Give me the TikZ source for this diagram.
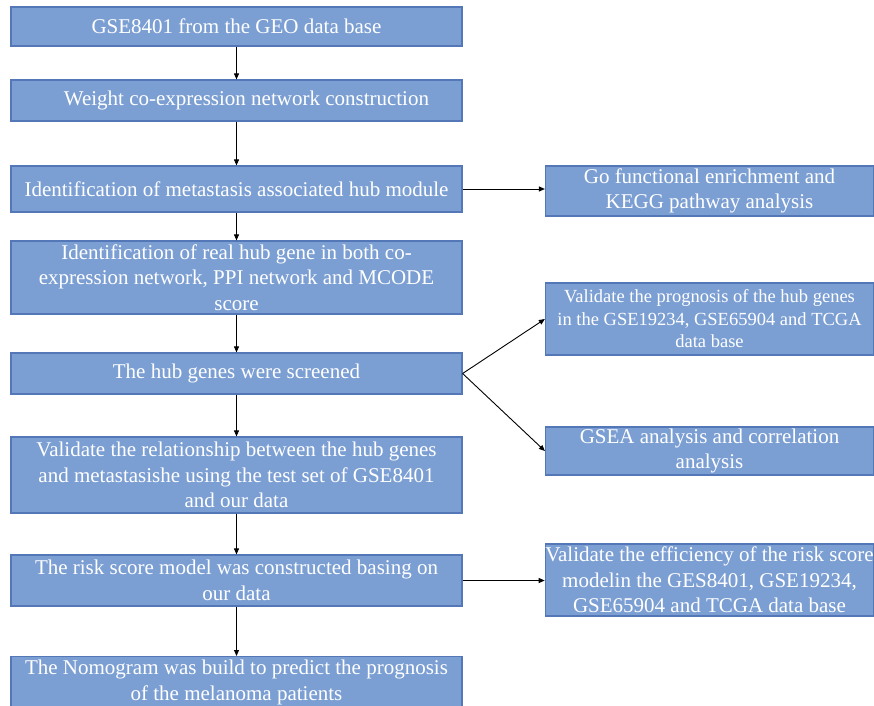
\documentclass[tikz,border=0pt]{standalone}
\usepackage{fontspec}
\setmainfont{Liberation Serif}
\usetikzlibrary{arrows.meta}
\definecolor{boxfill}{RGB}{124,159,211}
\definecolor{boxline}{RGB}{84,119,183}
\tikzset{
  box/.style={draw=boxline,line width=1.2pt,fill=boxfill,text=white,align=center,
    inner sep=0pt,minimum width=451pt,font=\fontsize{21}{25.5}\selectfont},
  sidebox/.style={box,minimum width=328pt},
  flow/.style={->,line width=0.9pt}
}
\begin{document}
\begin{tikzpicture}[x=1pt,y=-1pt,>={Triangle[length=6pt,width=5pt]}]
  \useasboundingbox (0,0) rectangle (874,705);
  % main column
  \node[box,minimum height=39pt] (geo) at (236.5,26.5) {GSE8401 from the GEO data base};
  \node[box,minimum height=41pt] (wgcna) at (236.5,100.5) {\hspace*{20pt}Weight co-expression network construction};
  \node[box,minimum height=46pt] (module) at (236.5,189) {Identification of metastasis associated hub module};
  \node[box,minimum height=73pt] (realhub) at (236.5,277.5) {Identification of real hub gene in both co-\\expression network, PPI network and MCODE\\score};
  \node[box,minimum height=41pt] (screen) at (236.5,373.5) {The hub genes were screened};
  \node[box,minimum height=76pt] (relation) at (236.5,475) {Validate the relationship between the hub genes\\and metastasishe using the test set of GSE8401\\and our data};
  \node[box,minimum height=51pt] (risk) at (236.5,580.5) {The risk score model was constructed basing on\\our data};
  \node[box,minimum height=52pt,anchor=north] (nomo) at (236.5,656) {The Nomogram was build to predict the prognosis\\of the melanoma patients};
  % side boxes
  \node[sidebox,minimum height=50pt] (enrich) at (709.5,191) {Go functional enrichment and\\KEGG pathway analysis};
  \node[sidebox,minimum height=72pt,font=\fontsize{18.5}{22.5}\selectfont] (progn) at (709.5,319) {Validate the prognosis of the hub genes\\in the GSE19234, GSE65904 and TCGA\\data base};
  \node[sidebox,minimum height=48pt] (gsea) at (709.5,451) {GSEA analysis and correlation\\analysis};
  \node[sidebox,minimum height=72pt] (effic) at (709.5,580) {Validate the efficiency of the risk score\\modelin the GES8401, GSE19234,\\GSE65904 and TCGA data base};
  % arrows
  \draw[flow] (geo) -- (wgcna);
  \draw[flow] (wgcna) -- (module);
  \draw[flow] (module) -- (realhub);
  \draw[flow] (realhub) -- (screen);
  \draw[flow] (screen) -- (relation);
  \draw[flow] (relation) -- (risk);
  \draw[flow] (risk) -- (nomo);
  \draw[flow] (module.east) -- (module.east -| enrich.west);
  \draw[flow] (screen.east) -- (progn.west);
  \draw[flow] (screen.east) -- (gsea.west);
  \draw[flow] (risk.east) -- (risk.east -| effic.west);
\end{tikzpicture}
\end{document}
